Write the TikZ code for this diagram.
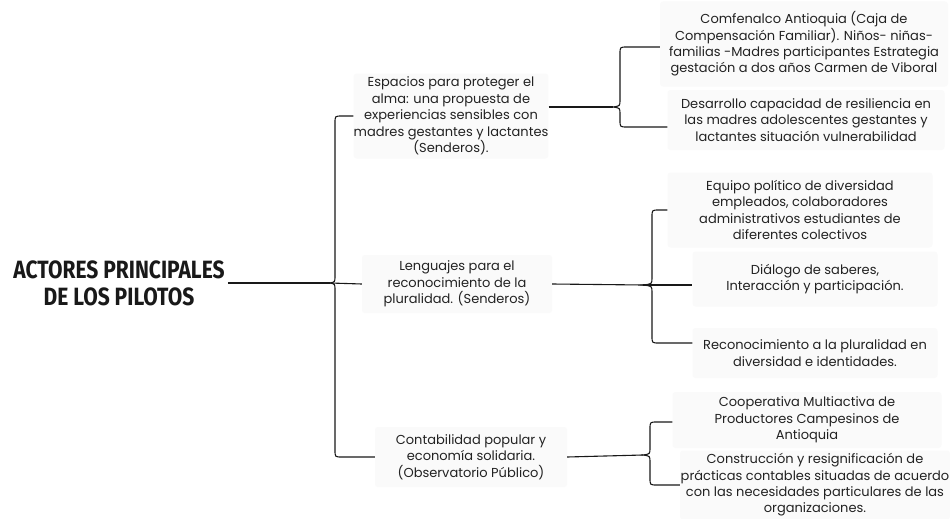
\documentclass[tikz,border=0pt]{standalone}
\usepackage{fontspec}
\setmainfont{Poppins}
\newfontfamily\titlefont{Fira Sans}[FakeStretch=0.84]
\definecolor{boxgray}{RGB}{250,250,250}
\definecolor{textc}{RGB}{34,34,34}
\begin{document}
\begin{tikzpicture}[x=1pt,y=-1pt,
  conn/.style={draw=black!90, line width=1.1pt},
  box/.style={fill=boxgray, rounded corners=3pt, align=center, inner sep=0pt,
    text=textc, font=\fontsize{13}{16.4}\selectfont},
  title/.style={align=center, inner sep=3pt, text=black!90,
    font=\titlefont\bfseries\fontsize{25}{27}\selectfont}]
\useasboundingbox (0,0) rectangle (950,519);
\fill[white] (0,0) rectangle (950,519);

% root
\node[title] (root) at (119,283) {ACTORES PRINCIPALES\\DE LOS PILOTOS};

% branches
\node[box, minimum width=192pt, minimum height=85pt] (b1) at (451,116)
  {Espacios para proteger el\\alma: una propuesta de\\experiencias sensibles con\\madres gestantes y lactantes\\(Senderos).};
\node[box, minimum width=190pt, minimum height=58pt] (b2) at (457,284)
  {Lenguajes para el\\reconocimiento de la\\pluralidad. (Senderos)};
\node[box, minimum width=192pt, minimum height=60pt] (b3) at (471,457)
  {Contabilidad popular y\\economía solidaria.\\(Observatorio Público)};

% leaves group 1
\node[box, minimum width=288pt, minimum height=85pt] (a1) at (804,44)
  {Comfenalco Antioquia (Caja de\\Compensación Familiar). Niños- niñas-\\familias -Madres participantes Estrategia\\gestación a dos años Carmen de Viboral};
\node[box, minimum width=277pt, minimum height=60pt] (a2) at (806,120)
  {Desarrollo capacidad de resiliencia en\\las madres adolescentes gestantes y\\lactantes situación vulnerabilidad};

% leaves group 2
\node[box, minimum width=265pt, minimum height=75pt] (c1) at (800,210)
  {Equipo político de diversidad\\empleados, colaboradores\\administrativos estudiantes de\\diferentes colectivos};
\node[box, minimum width=245pt, minimum height=55pt] (c2) at (815,279)
  {Diálogo de saberes,\\Interacción y participación.};
\node[box, minimum width=245pt, minimum height=50pt] (c3) at (815,353)
  {Reconocimiento a la pluralidad en\\diversidad e identidades.};

% leaves group 3
\node[box, minimum width=269pt, minimum height=56pt] (d1) at (807,420)
  {Cooperativa Multiactiva de\\Productores Campesinos de\\Antioquia};
\node[box, minimum width=270pt, minimum height=69pt] (d2) at (815,485)
  {Construcción y resignificación de\\prácticas contables situadas de acuerdo\\con las necesidades particulares de las\\organizaciones.};

% brace tips
\coordinate (t0) at (330,283);
\coordinate (t1) at (613,107);
\coordinate (t2) at (643,285);
\coordinate (t3) at (643,455);

% root connector and main brace
\draw[conn] (root.east) -- (t0);
\draw[conn] (b1.west) -- (342,116) .. controls (335,116) .. (335,123) -- (335,276)
  .. controls (335,282) .. (t0) .. controls (335,284) .. (335,290) -- (335,450)
  .. controls (335,457) .. (342,457) -- (b3.west);
\draw[conn] (t0) -- (b2.west);

% brace 1
\draw[conn] (b1.east |- t1) -- (t1);
\draw[conn] (a1.west |- 0,47) -- (627,47) .. controls (620,47) .. (620,54) -- (620,100)
  .. controls (620,106) .. (t1) .. controls (620,108) .. (620,114) -- (620,120)
  .. controls (620,127) .. (627,127) -- (a2.west |- 0,127);

% brace 2
\draw[conn] (b2.east) -- (t2);
\draw[conn] (t2) -- (c2.west |- t2);
\draw[conn] (c1.west) -- (659,210) .. controls (652,210) .. (652,217) -- (652,278)
  .. controls (652,284) .. (t2) .. controls (652,286) .. (652,292) -- (652,336)
  .. controls (652,343) .. (659,343) -- (c3.west |- 0,343);

% brace 3
\draw[conn] (b3.east) -- (t3);
\draw[conn] (d1.west |- 0,422) -- (657,422) .. controls (650,422) .. (650,429) -- (650,448)
  .. controls (650,454) .. (t3) .. controls (650,456) .. (650,462) -- (650,478)
  .. controls (650,485) .. (657,485) -- (d2.west |- 0,485);
\end{tikzpicture}
\end{document}
